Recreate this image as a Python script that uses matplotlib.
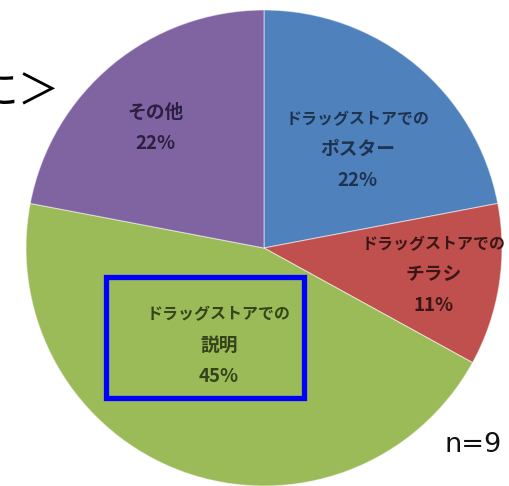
import numpy as np
import matplotlib
matplotlib.use("Agg")
import matplotlib.pyplot as plt
from matplotlib.patches import Rectangle

plt.rcParams['font.family'] = ['Noto Sans CJK JP', 'DejaVu Sans']

# ---- data ----
categories = ["ドラッグストアでの\nポスター", "ドラッグストアでの\nチラシ",
              "ドラッグストアでの\n説明", "その他"]
percent = [22, 11, 45, 22]
colors = ["#4F81BD", "#C0504D", "#9BBB59", "#8064A2"]
label_colors = ["#1E3350", "#3A1615", "#34431A", "#2C1F40"]
sample_note = "n=9"
title_fragment = "に＞"

# ---- layout (pixel space) ----
W, H = 509, 486
fig = plt.figure(figsize=(W / 100, H / 100), dpi=100)
ax = fig.add_axes([0, 0, 1, 1])

def py(y):  # pixel row -> data y
    return H - y

cx, cy, R = 264, py(248), 238
wedges, _ = ax.pie(percent, colors=colors, startangle=90, counterclock=False,
                   center=(cx, cy), radius=R,
                   wedgeprops=dict(edgecolor=(1, 1, 1, 0.5), linewidth=0.8))

# label placement along each wedge (radial fraction, angle offset deg)
label_r = [0.57, 0.72, 0.45, 0.68]
label_da = [-4, 0, -5, 2.5]
line_gap_pt = 31 * 72 / 100  # ~31 px between lines
for w, cat, p, rf, da, lc in zip(wedges, categories, percent, label_r, label_da, label_colors):
    ang = np.deg2rad((w.theta1 + w.theta2) / 2 + da)
    x = cx + R * rf * np.cos(ang)
    y = cy + R * rf * np.sin(ang)
    lines = cat.split("\n") + [f"{p}%"]
    n = len(lines)
    for i, line in enumerate(lines):
        fs = 11.5 if len(line) > 6 else 13.5
        ax.annotate(line, (x, y), xytext=(0, -(i - (n - 1) / 2) * line_gap_pt),
                    textcoords="offset points", ha="center", va="center",
                    fontsize=fs, color=lc, fontweight="bold")

# highlight box
ax.add_patch(Rectangle((106.5, py(397.5)), 198, 121, fill=False,
                       edgecolor="#0000FF", linewidth=3.8, zorder=5))

ax.text(502, py(452), sample_note, ha="right", va="baseline", fontsize=19.5,
        color="#111111", family=["DejaVu Sans"])
ax.text(60, py(104), title_fragment, ha="right", va="baseline", fontsize=30,
        color="#000000")

ax.set_xlim(0, W)
ax.set_ylim(0, H)
ax.set_aspect("auto")
ax.axis("off")
fig.savefig("out.png", dpi=100)
